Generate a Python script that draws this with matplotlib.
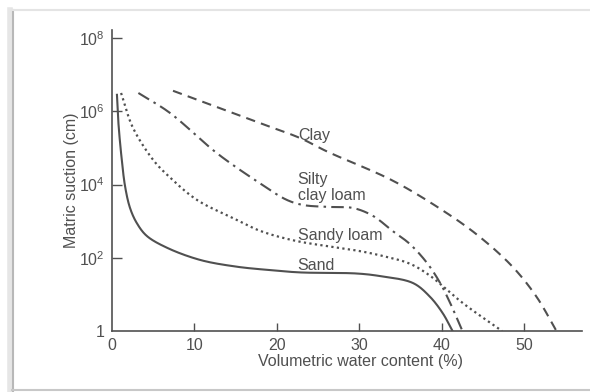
import numpy as np
import matplotlib
matplotlib.use("Agg")
from matplotlib import pyplot as plt
from matplotlib.lines import Line2D

plt.rcParams['font.family'] = ['Liberation Sans', 'DejaVu Sans']
plt.rcParams['mathtext.default'] = 'regular'

# water content (%) and log10 of matric suction (cm)
sand_x = [0.6, 0.75, 1.1, 1.6, 2.2, 3.0, 4.2, 6.7, 10.7, 15.0, 18.8, 22.8, 29.7, 32.5, 36.5, 38.5, 40.1, 41.3]
sand_y = [6.45, 5.77, 4.86, 3.93, 3.35, 2.95, 2.6, 2.27, 1.94, 1.76, 1.67, 1.60, 1.57, 1.50, 1.31, 0.95, 0.49, 0.0]

sandy_x = [1.1, 2.5, 5.0, 7.0, 10.3, 14.7, 17.9, 21.9, 26.0, 30.1, 33.0, 36.1, 38.5, 42.5, 47.3]
sandy_y = [6.5, 5.57, 4.67, 4.2, 3.58, 3.08, 2.74, 2.48, 2.32, 2.18, 2.04, 1.84, 1.52, 0.77, 0.0]

silty_x = [3.2, 7.0, 12.7, 17.9, 21.2, 23.2, 26.1, 29.2, 31.6, 34.1, 36.1, 38.2, 39.8, 41.0, 42.5]
silty_y = [6.5, 5.96, 4.86, 4.04, 3.58, 3.44, 3.39, 3.36, 3.15, 2.72, 2.38, 1.86, 1.31, 0.77, 0.0]

clay_x = [7.4, 17.9, 22.8, 26.1, 34.1, 40.6, 44.6, 48.6, 51.5, 53.9]
clay_y = [6.56, 5.68, 5.27, 4.90, 4.10, 3.22, 2.57, 1.75, 0.93, 0.0]

labels = ["Clay", "Silty\nclay loam", "Sandy loam", "Sand"]
label_x = [22.6, 22.5, 22.5, 22.5]
label_y = [5.35, 3.92, 2.62, 1.8]

xticks = [0, 10, 20, 30, 40, 50]
yticks = [1, 1e2, 1e4, 1e6, 1e8]
ytick_labels = ["1", "$10^2$", "$10^4$", "$10^6$", "$10^8$"]

col = "#505050"
fig = plt.figure(figsize=(5.9, 3.92), dpi=100)
ax = fig.add_axes([112 / 590, 1 - 331 / 392, (582 - 112) / 590, (331 - 30) / 392])


def smooth(x, y, n=40):
    # centripetal Catmull-Rom through the read points (in screen-like units)
    p = np.column_stack([np.asarray(x, float) * 8.25, np.asarray(y, float) * 36.6])
    p = np.vstack([2 * p[0] - p[1], p, 2 * p[-1] - p[-2]])
    out = [p[1]]
    for i in range(1, len(p) - 2):
        p0, p1, p2, p3 = p[i - 1], p[i], p[i + 1], p[i + 2]
        t0 = 0.0
        t1 = t0 + np.linalg.norm(p1 - p0) ** 0.5
        t2 = t1 + np.linalg.norm(p2 - p1) ** 0.5
        t3 = t2 + np.linalg.norm(p3 - p2) ** 0.5
        t = np.linspace(t1, t2, n)[1:, None]
        a1 = (t1 - t) / (t1 - t0) * p0 + (t - t0) / (t1 - t0) * p1
        a2 = (t2 - t) / (t2 - t1) * p1 + (t - t1) / (t2 - t1) * p2
        a3 = (t3 - t) / (t3 - t2) * p2 + (t - t2) / (t3 - t2) * p3
        b1 = (t2 - t) / (t2 - t0) * a1 + (t - t0) / (t2 - t0) * a2
        b2 = (t3 - t) / (t3 - t1) * a2 + (t - t1) / (t3 - t1) * a3
        c = (t2 - t) / (t2 - t1) * b1 + (t - t1) / (t2 - t1) * b2
        out.extend(c)
    out = np.array(out)
    return out[:, 0] / 8.25, 10 ** (out[:, 1] / 36.6)


x, y = smooth(sand_x, sand_y)
ax.plot(x, y, color=col, lw=1.5)
x, y = smooth(sandy_x, sandy_y)
ax.plot(x, y, color=col, lw=1.6, linestyle=(0, (1.0, 1.5)))
x, y = smooth(silty_x, silty_y)
ax.plot(x, y, color=col, lw=1.5, linestyle=(0, (6, 2.5, 1.2, 2.5)))
x, y = smooth(clay_x, clay_y)
ax.plot(x, y, color=col, lw=1.5, linestyle=(0, (4.5, 3)))

for s, lx, ly in zip(labels, label_x, label_y):
    ax.text(lx, 10 ** ly, s, color=col, fontsize=11.5, ha='left', va='center',
            linespacing=1.05)

ax.set_yscale('log')
ax.set_xlim(0, 57)
ax.set_ylim(1, 10 ** 8.22)
ax.set_xticks(xticks)
ax.set_xticklabels([str(v) for v in xticks])
ax.set_yticks(yticks)
ax.set_yticklabels(ytick_labels)
ax.yaxis.set_minor_locator(matplotlib.ticker.NullLocator())
ax.tick_params(axis='y', direction='in', length=7, width=1, color=col,
               labelsize=11.5, labelcolor=col, pad=5)
ax.tick_params(axis='x', direction='in', length=6, width=1, color=col,
               labelsize=11.5, labelcolor=col, pad=5)
ax.yaxis.get_major_ticks()[0].tick1line.set_visible(False)
ax.xaxis.get_major_ticks()[0].tick1line.set_visible(False)
for sp in ['top', 'right']:
    ax.spines[sp].set_visible(False)
for sp in ['left', 'bottom']:
    ax.spines[sp].set_color(col)
    ax.spines[sp].set_linewidth(1.2)

ax.set_xlabel("Volumetric water content (%)", fontsize=11.5, color=col)
ax.xaxis.set_label_coords(0.528, -0.075)
ax.set_ylabel("Matric suction (cm)", fontsize=11.5, color=col)
ax.yaxis.set_label_coords(-0.07, 0.5)

# scanned frame around the figure
W, H = 590.0, 392.0
fig.add_artist(Line2D([10 / W, 10 / W], [1 - 10 / H, 1 - 391 / H], color="#e6e6e6", lw=4))
fig.add_artist(Line2D([12.5 / W, 12.5 / W], [1 - 10 / H, 1 - 391 / H], color="#b8b8b8", lw=1.5))
fig.add_artist(Line2D([12 / W, 1], [1 - 10 / H, 1 - 10 / H], color="#e4e4e4", lw=1.5))
fig.add_artist(Line2D([12 / W, 1], [1 - 390 / H, 1 - 390 / H], color="#c8c8c8", lw=1.5))

fig.savefig("out.png", dpi=100)
